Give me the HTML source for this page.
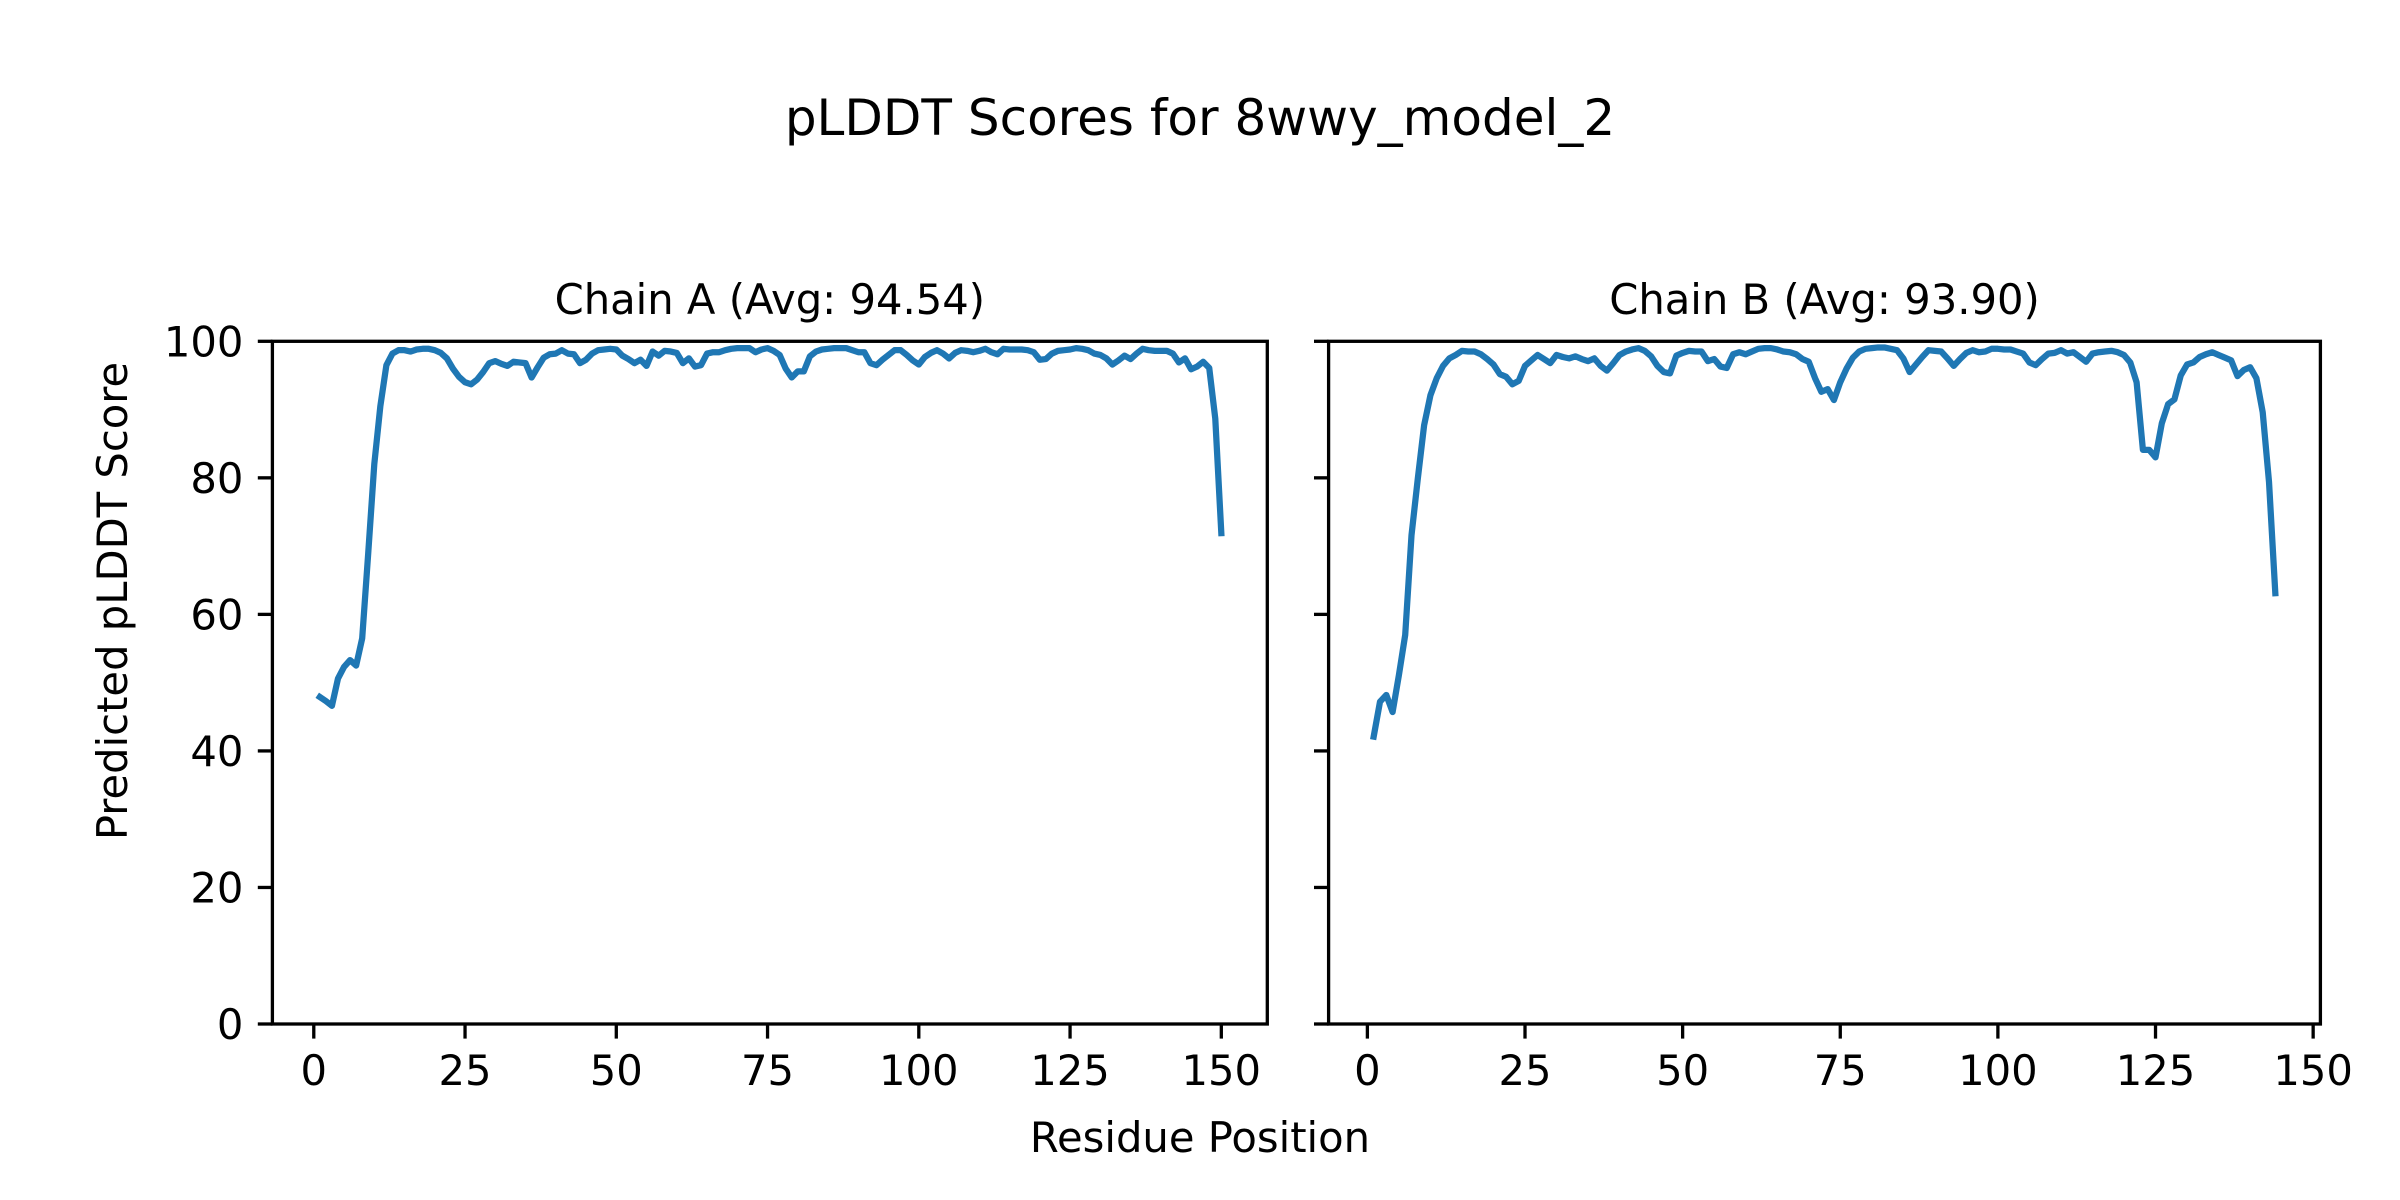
<!DOCTYPE html>
<html><head><meta charset="utf-8">
<style>
html,body{margin:0;padding:0;background:#fff;}
svg{display:block;font-family:"DejaVu Sans","Liberation Sans",sans-serif;}
</style></head>
<body>
<svg id="chart" width="2400" height="1200" viewBox="0 0 2400 1200" xmlns="http://www.w3.org/2000/svg">
<rect width="2400" height="1200" fill="#fff"/>
<text x="1200" y="135" font-size="50" text-anchor="middle" fill="#000">pLDDT Scores for 8wwy_model_2</text>
<text x="1200" y="1152" font-size="41.7" text-anchor="middle" fill="#000">Residue Position</text>
<text x="0" y="0" font-size="41.7" text-anchor="middle" fill="#000" transform="translate(127,601) rotate(-90)">Predicted pLDDT Score</text>
<g id="panels"></g>
</svg>
<script>
const chainAScores = [47.9,47.3,46.6,50.6,52.3,53.3,52.5,56.5,69,82,90.5,96.5,98.2,98.7,98.7,98.5,98.8,98.9,98.9,98.7,98.3,97.5,96.0,94.8,94.0,93.7,94.4,95.5,96.8,97.1,96.7,96.4,97.0,96.9,96.8,94.7,96.2,97.6,98.1,98.2,98.7,98.2,98.1,96.8,97.3,98.2,98.7,98.8,98.9,98.8,97.9,97.4,96.8,97.3,96.4,98.5,97.9,98.6,98.5,98.3,96.8,97.5,96.3,96.5,98.2,98.4,98.4,98.7,98.9,99.0,99.0,99.0,98.4,98.8,99.0,98.6,98.0,96.0,94.7,95.6,95.6,97.8,98.5,98.8,98.9,99.0,99.0,99.0,98.7,98.4,98.4,96.8,96.5,97.3,98.0,98.7,98.7,98.0,97.2,96.6,97.7,98.3,98.7,98.2,97.5,98.3,98.7,98.6,98.4,98.6,98.9,98.4,98.1,98.9,98.8,98.8,98.8,98.7,98.4,97.3,97.4,98.2,98.6,98.7,98.8,99.0,98.9,98.7,98.2,98.0,97.5,96.6,97.2,97.9,97.4,98.2,98.9,98.7,98.6,98.6,98.6,98.2,96.9,97.5,95.9,96.3,97.0,96.1,88.7,71.9];
const chainBScores = [42.1,47.2,48.2,45.7,51.1,57.0,71.6,79.9,87.7,92.1,94.6,96.4,97.5,98.0,98.6,98.5,98.5,98.1,97.4,96.6,95.2,94.8,93.7,94.2,96.4,97.2,98.0,97.4,96.8,98.0,97.7,97.5,97.8,97.4,97.1,97.5,96.4,95.7,96.8,98.0,98.5,98.8,99.0,98.6,97.8,96.4,95.5,95.3,97.9,98.3,98.6,98.5,98.5,97.1,97.4,96.3,96.1,98.1,98.4,98.1,98.5,98.9,99.0,99.0,98.8,98.5,98.4,98.1,97.4,97.0,94.6,92.6,93.0,91.4,94.0,96.0,97.6,98.5,98.9,99.0,99.1,99.1,98.9,98.7,97.5,95.5,96.6,97.7,98.7,98.6,98.5,97.5,96.4,97.4,98.3,98.7,98.4,98.5,98.9,98.9,98.8,98.8,98.5,98.2,96.9,96.5,97.4,98.2,98.3,98.7,98.2,98.4,97.7,97.0,98.2,98.4,98.5,98.6,98.4,98.0,96.9,94.0,84.1,84.1,83.0,88.0,90.8,91.5,95.0,96.6,96.9,97.7,98.1,98.4,98.0,97.6,97.2,94.9,95.8,96.2,94.6,89.6,79.4,63.1];
const chainTitles = ["Chain A (Avg: 94.54)","Chain B (Avg: 93.90)"];
const xTickValues = [0,25,50,75,100,125,150];
const yTickValues = [0,20,40,60,80,100];

const SVGNS = "http://www.w3.org/2000/svg";
const panelRoot = document.getElementById('panels');
function mk(tag, attrs, parent){
  const e = document.createElementNS(SVGNS, tag);
  for (const k in attrs) e.setAttribute(k, attrs[k]);
  parent.appendChild(e);
  return e;
}
const panelDefs = [
  {scores: chainAScores, left:272.4, right:1267.3, xmin:-6.84, xmax:157.6, ylabels:true},
  {scores: chainBScores, left:1328.6, right:2320.4, xmin:-6.15, xmax:151.15, ylabels:false}
];
const axTop = 341.3, axBottom = 1024;
const yMinVal = 0, yMaxVal = 100;
panelDefs.forEach((p, idx) => {
  const xs = v => p.left + (v - p.xmin) / (p.xmax - p.xmin) * (p.right - p.left);
  const ys = v => axBottom - (v - yMinVal) / (yMaxVal - yMinVal) * (axBottom - axTop);
  const g = mk('g', {}, panelRoot);
  
  
  const t = mk('text', {x:(p.left+p.right)/2, y:314, 'font-size':41.7, 'text-anchor':'middle', fill:'#000'}, g);
  t.textContent = chainTitles[idx];
  
  
  const d = p.scores.map((v, i) => (i ? 'L' : 'M') + xs(i + 1).toFixed(2) + ' ' + ys(v).toFixed(2)).join(' ');
  const path = mk('path', {d:d, fill:'none', stroke:'#1f77b4', 'stroke-width':6.25, 'stroke-linejoin':'round', 'stroke-linecap':'square'}, g);
  
  
  const fr = mk('rect', {x:p.left, y:axTop, width:p.right-p.left, height:axBottom-axTop, fill:'none', stroke:'#000', 'stroke-width':3.3}, g);
  
  
  xTickValues.forEach(v => {
    const x = xs(v);
    const tk = mk('line', {x1:x, x2:x, y1:axBottom, y2:axBottom+14.6, stroke:'#000', 'stroke-width':3.3}, g);
    
    
    const lb = mk('text', {x:x, y:1085, 'font-size':41.7, 'text-anchor':'middle', fill:'#000'}, g);
    lb.textContent = String(v);
    
    
  });
  yTickValues.forEach(v => {
    const y = ys(v);
    const tk = mk('line', {x1:p.left-14.6, x2:p.left, y1:y, y2:y, stroke:'#000', 'stroke-width':3.3}, g);
    
    
    if (p.ylabels) {
      const lb = mk('text', {x:p.left-29, y:y+15, 'font-size':41.7, 'text-anchor':'end', fill:'#000'}, g);
      lb.textContent = String(v);
      
      
    }
  });
});
</script>
</body></html>
